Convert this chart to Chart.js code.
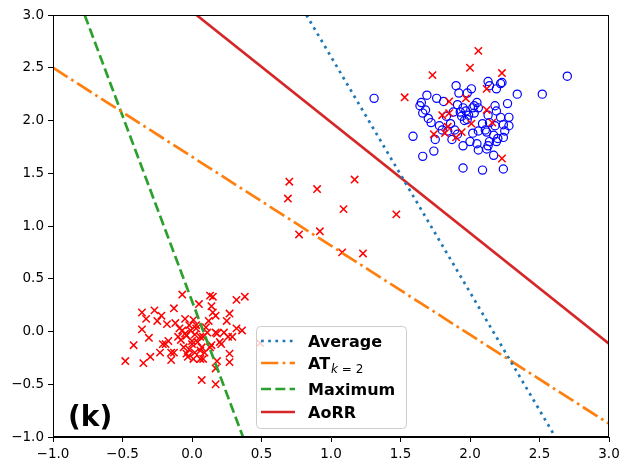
<!DOCTYPE html>
<html>
<head>
<meta charset="utf-8">
<script src="https://cdn.jsdelivr.net/npm/chart.js@4.4.1/dist/chart.umd.min.js"></script>
<style>
  html, body { margin: 0; padding: 0; background: #fff; }
  #wrap { width: 630px; height: 470px; }
</style>
</head>
<body>
<div id="wrap"><canvas id="chart" width="630" height="470"></canvas></div>
<script>
// axis ticks
var xTicks = [-1.0, -0.5, 0.0, 0.5, 1.0, 1.5, 2.0, 2.5, 3.0];
var yTicks = [-1.0, -0.5, 0.0, 0.5, 1.0, 1.5, 2.0, 2.5, 3.0];

// red crosses, cluster near the origin
var redLowX = [-0.07, 0.13, 0.15, 0.38, 0.32, 0.05, 0.14, -0.13, -0.36, -0.27, -0.22, -0.33, -0.25, -0.18,
  -0.05, 0.01, 0.12, 0.17, 0.27, 0.25, -0.36, -0.31, -0.42, -0.48, -0.35, -0.30, -0.23, -0.21, -0.17,
  -0.15, -0.15, -0.07, -0.04, -0.01, 0.03, -0.06, -0.03, 0.02, 0.07, 0.06, 0.00, 0.06, 0.11, 0.18, 0.23,
  0.20, 0.14, 0.18, 0.17, 0.27, 0.27, 0.29, 0.32, 0.36, 0.07, 0.17, 0.49, 0.15, -0.09, -0.05, 0.03, 0.08,
  0.17, 0.26, -0.19, -0.13, -0.04, 0.00, 0.01, 0.06, 0.08, 0.13, 0.21, -0.10, -0.02, 0.04, -0.08, 0.10,
  0.02, -0.12, 0.09, -0.02];
var redLowY = [0.35, 0.34, 0.33, 0.33, 0.30, 0.26, 0.24, 0.22, 0.18, 0.20, 0.15, 0.12, 0.10, 0.07,
  0.12, 0.11, 0.10, 0.15, 0.17, 0.10, 0.02, -0.06, -0.13, -0.28, -0.30, -0.24, -0.20, -0.12, -0.09,
  -0.20, -0.27, 0.01, -0.04, 0.01, 0.03, -0.15, -0.24, -0.20, -0.15, -0.26, -0.09, -0.05, -0.01, -0.02, -0.01,
  -0.10, -0.13, -0.28, -0.35, -0.21, -0.29, -0.05, 0.03, 0.01, -0.46, -0.50, -0.11, 0.18, 0.03, -0.02, 0.06, -0.05,
  -0.01, -0.05, -0.12, -0.20, -0.21, -0.12, -0.26, -0.18, -0.26, -0.15, -0.12, -0.05, 0.06, -0.10, -0.08, 0.04,
  -0.03, 0.08, -0.20, -0.17];

// red crosses in the middle
var redMidX = [0.70, 0.69, 0.90, 1.17, 1.09, 1.47, 0.77, 0.92, 1.08, 1.23];
var redMidY = [1.42, 1.26, 1.35, 1.44, 1.16, 1.11, 0.92, 0.95, 0.75, 0.74];

// red crosses inside the blue cluster
var redHighX = [2.06, 2.00, 2.23, 1.73, 1.53, 2.12, 1.85, 1.97, 1.80, 1.85, 2.12, 2.01, 2.16, 1.84, 1.74,
  1.82, 1.90, 1.94, 2.23];
var redHighY = [2.66, 2.50, 2.45, 2.43, 2.22, 2.30, 2.18, 2.21, 2.05, 2.07, 2.10, 1.97, 1.98, 1.94, 1.87,
  1.88, 1.84, 1.89, 1.64];

// blue circles
var blueX = [1.31, 2.70, 2.52, 2.34, 1.59, 1.66, 1.74, 1.95, 2.09, 2.24, 2.17, 1.90, 2.01, 2.13, 2.23,
  2.19, 1.92, 1.98, 1.69, 1.76, 1.81, 1.65, 1.64, 1.68, 1.66, 1.72, 1.78, 1.80, 1.84, 1.89, 1.87, 1.95,
  2.00, 2.05, 2.13, 2.19, 2.24, 2.02, 2.06, 2.11, 2.14, 2.18, 2.22, 2.28, 2.28, 2.27, 2.18, 2.19, 2.13,
  2.05, 2.06, 2.02, 1.97, 1.94, 1.98, 1.88, 1.83, 1.75, 2.14, 2.22, 1.91, 1.95, 2.03, 2.03, 1.96, 1.99,
  2.12, 2.24, 2.09, 2.17, 2.20, 2.14, 2.12, 2.06, 1.93, 1.86, 1.91, 2.25, 1.70];
var blueY = [2.21, 2.42, 2.25, 2.25, 1.85, 1.66, 1.71, 1.55, 1.53, 1.54, 1.67, 2.33, 2.30, 2.37, 2.36,
  2.30, 2.26, 2.26, 2.24, 2.21, 2.18, 2.17, 2.14, 2.10, 2.07, 1.98, 1.95, 1.91, 1.90, 1.91, 1.82, 1.76,
  1.80, 1.78, 1.76, 1.80, 1.84, 1.88, 1.90, 1.91, 1.98, 1.95, 2.03, 2.03, 1.95, 2.16, 2.14, 2.09, 2.05,
  2.17, 2.12, 2.12, 2.09, 2.04, 2.01, 2.08, 2.04, 1.82, 2.33, 2.35, 2.15, 2.12, 2.14, 2.07, 2.00, 2.05,
  1.89, 1.96, 1.97, 1.86, 1.83, 1.80, 1.73, 1.72, 2.08, 1.97, 1.87, 1.90, 2.02];

// decision lines, two end points each
var averageX = [0.823, 2.614];
var averageY = [3.0, -1.0];
var atkX = [-1.0, 3.0];
var atkY = [2.50, -0.874];
var maximumX = [-0.772, 0.367];
var maximumY = [3.0, -1.0];
var aorrX = [0.032, 3.0];
var aorrY = [3.0, -0.115];

function pts(xs, ys) {
    return xs.map(function(x, i) { return {x: x, y: ys[i]}; });
}

function fmt(v) {
    var s = Math.abs(v).toFixed(1);
    return v < 0 ? '\u2212' + s : s;
}

var FONT = "'DejaVu Sans', sans-serif";
var LW = 2.7;

var lineDatasets = [
    {label: 'Average', data: pts(averageX, averageY), borderColor: '#1f77b4', borderDash: [2.7, 4.5]},
    {label: 'AT', sub: 'k = 2', data: pts(atkX, atkY), borderColor: '#ff7f0e', borderDash: [17.3, 4.3, 2.7, 4.3]},
    {label: 'Maximum', data: pts(maximumX, maximumY), borderColor: '#2ca02c', borderDash: [10, 4.3]},
    {label: 'AoRR', data: pts(aorrX, aorrY), borderColor: '#d62728', borderDash: []}
].map(function(d) {
    d.showLine = true;
    d.borderWidth = LW;
    d.pointRadius = 0;
    d.borderCapStyle = 'butt';
    d.order = 0;
    return d;
});

function crosses(xs, ys) {
    return {data: pts(xs, ys), pointStyle: 'crossRot', pointRadius: 5.2, borderColor: '#ff0000',
        pointBorderWidth: 1.5, showLine: false, order: 1};
}

var pointDatasets = [
    crosses(redLowX, redLowY),
    crosses(redMidX, redMidY),
    crosses(redHighX, redHighY),
    {data: pts(blueX, blueY), pointStyle: 'circle', pointRadius: 4.1, borderColor: '#0000ff',
        backgroundColor: 'rgba(0,0,0,0)', pointBorderWidth: 1.2, showLine: false, order: 2}
];

// frame, inner legend and panel tag
var extras = {
    id: 'extras',
    afterDraw: function(c) {
        var ctx = c.ctx, a = c.chartArea;
        ctx.save();
        ctx.strokeStyle = '#000';
        ctx.lineWidth = 1;
        ctx.strokeRect(Math.round(a.left) + 0.5, Math.round(a.top) + 0.5,
            Math.round(a.right - a.left) - 1, Math.round(a.bottom - a.top) - 1);

        // legend box
        var bw = 150, bh = 102;
        var bx = (a.left + a.right) / 2 - bw / 2, by = a.bottom - 9 - bh;
        ctx.beginPath();
        ctx.roundRect(bx + 0.5, by + 0.5, bw, bh, 4);
        ctx.fillStyle = 'rgba(255,255,255,0.8)';
        ctx.fill();
        ctx.strokeStyle = '#cccccc';
        ctx.stroke();

        var rows = [15, 37, 63, 86];
        lineDatasets.forEach(function(d, i) {
            var y = by + rows[i];
            ctx.beginPath();
            ctx.setLineDash(d.borderDash);
            ctx.strokeStyle = d.borderColor;
            ctx.lineWidth = LW;
            ctx.moveTo(bx + 5, y);
            ctx.lineTo(bx + 39, y);
            ctx.stroke();
            ctx.setLineDash([]);
            ctx.fillStyle = '#000';
            ctx.textBaseline = 'alphabetic';
            ctx.font = 'bold 16px ' + FONT;
            ctx.fillText(d.label, bx + 52, y + 6);
            if (d.sub) {
                var w = ctx.measureText(d.label).width;
                ctx.font = 'italic 12px ' + FONT;
                ctx.fillText('k', bx + 53 + w, y + 10);
                var kw = ctx.measureText('k').width;
                ctx.font = '12px ' + FONT;
                ctx.fillText(' = 2', bx + 53 + w + kw, y + 10);
            }
        });

        ctx.font = 'bold 28px ' + FONT;
        ctx.fillStyle = '#000';
        ctx.fillText('(k)', a.left + 15, a.bottom - 11);
        ctx.restore();
    }
};

function axis(ticks, fit) {
    return {
        type: 'linear',
        min: ticks[0],
        max: ticks[ticks.length - 1],
        afterBuildTicks: function(s) { s.ticks = ticks.map(function(v) { return {value: v}; }); },
        afterFit: fit,
        ticks: {
            color: '#000',
            font: {family: FONT, size: 13.5},
            padding: 4,
            autoSkip: false,
            maxRotation: 0,
            callback: function(v) { return fmt(v); }
        },
        grid: {drawOnChartArea: false, drawTicks: true, tickLength: 5, tickColor: '#000', tickWidth: 1},
        border: {display: true, color: '#000', width: 1}
    };
}

var ctx = document.getElementById('chart').getContext('2d');
var chart = new Chart(ctx, {
    type: 'scatter',
    data: {datasets: lineDatasets.concat(pointDatasets)},
    options: {
        responsive: false,
        animation: false,
        devicePixelRatio: 1,
        layout: {padding: {top: 15, right: 21, left: 0, bottom: 0}},
        plugins: {legend: {display: false}, tooltip: {enabled: false}},
        scales: {
            x: axis(xTicks, function(s) { s.height = 33; }),
            y: axis(yTicks, function(s) { s.width = 53; })
        }
    },
    plugins: [extras]
});
</script>
</body>
</html>
